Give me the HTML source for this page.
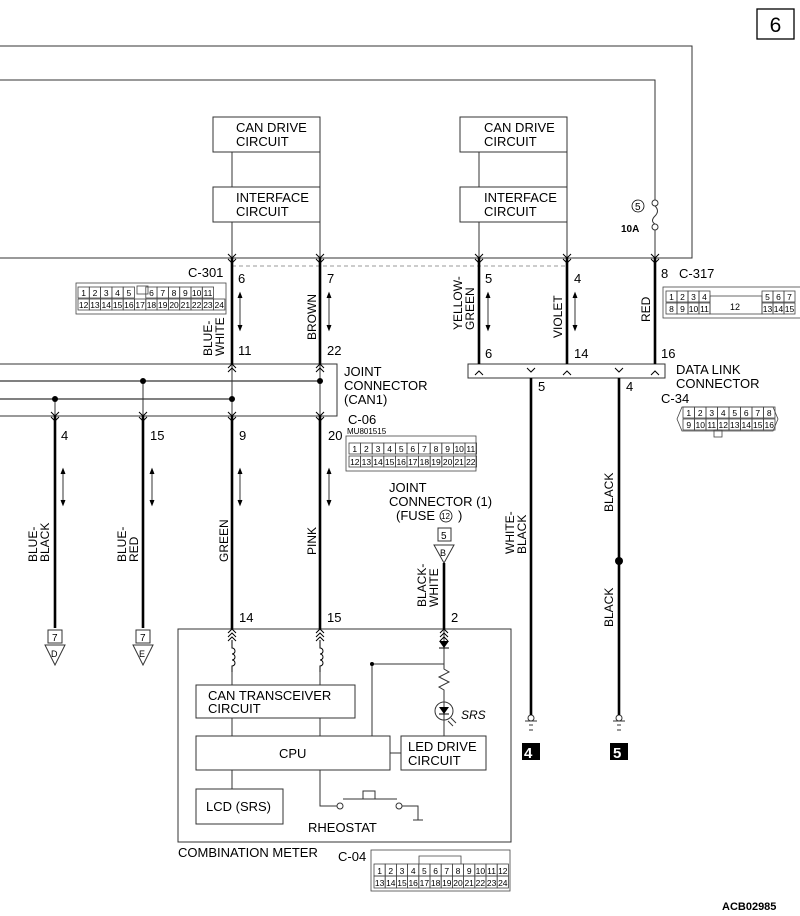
<!DOCTYPE html>
<html><head><meta charset="utf-8"><style>
body{margin:0;background:#fff}
svg{display:block;font-family:"Liberation Sans",Arial,sans-serif}
.t{font-size:13px;fill:#000}
.n{font-size:13px;fill:#000;font-family:"Liberation Sans Narrow","Liberation Sans",sans-serif}
.s{font-size:9px;fill:#000}
</style></head><body>
<svg id="sv" width="800" height="916" viewBox="0 0 800 916" xmlns="http://www.w3.org/2000/svg">
<g fill="none" stroke="#333" stroke-width="1">
<polyline points="0,46 692,46 692,258 0,258"/>
<polyline points="0,80 655,80 655,200"/>
<line x1="655" y1="230" x2="655" y2="258"/>
<circle cx="655" cy="203" r="3"/><circle cx="655" cy="227" r="3"/>
<path d="M655,206 q5,5 0,10 q-5,5 0,8"/>
<rect x="213" y="117" width="107" height="35"/><rect x="213" y="187" width="107" height="35"/>
<rect x="460" y="117" width="107" height="35"/><rect x="460" y="187" width="107" height="35"/>
<line x1="232" y1="152" x2="232" y2="187"/><line x1="320" y1="152" x2="320" y2="187"/>
<line x1="479" y1="152" x2="479" y2="187"/><line x1="567" y1="152" x2="567" y2="187"/>
<line x1="232" y1="222" x2="232" y2="258"/><line x1="320" y1="222" x2="320" y2="258"/>
<line x1="479" y1="222" x2="479" y2="258"/><line x1="567" y1="222" x2="567" y2="258"/>
<line x1="232" y1="266" x2="567" y2="266" stroke-dasharray="4,3" stroke="#999"/>
<polyline points="0,364 337,364 337,416 0,416"/>
<line x1="0" y1="381" x2="320" y2="381" stroke="#000"/>
<line x1="0" y1="399" x2="232" y2="399" stroke="#000"/>
<line x1="143" y1="381" x2="143" y2="416"/><line x1="55" y1="399" x2="55" y2="416"/>
<line x1="232" y1="364" x2="232" y2="416"/><line x1="320" y1="364" x2="320" y2="416"/>
<rect x="468" y="364" width="197" height="14"/>
<rect x="178" y="629" width="333" height="213"/>
<rect x="196" y="685" width="159" height="33"/>
<rect x="196" y="736" width="194" height="34"/>
<rect x="401" y="736" width="85" height="34"/>
<rect x="196" y="789" width="87" height="35"/>
<line x1="232" y1="672" x2="232" y2="685"/><line x1="320" y1="672" x2="320" y2="685"/>
<line x1="232" y1="718" x2="232" y2="736"/><line x1="320" y1="718" x2="320" y2="736"/>
<line x1="232" y1="770" x2="232" y2="789"/>
<polyline points="320,770 320,806 337,806"/>
<polyline points="402,806 418,806 418,820"/>
<line x1="413" y1="820" x2="423" y2="820"/>
<circle cx="340" cy="806" r="3"/><circle cx="399" cy="806" r="3"/>
<line x1="343" y1="799" x2="397" y2="799"/><rect x="363" y="791" width="12" height="8"/>
<line x1="390" y1="753" x2="401" y2="753"/>
<polyline points="372,736 372,664 444,664"/>
<line x1="444" y1="629" x2="444" y2="665"/>
<path d="M444,665 v4 l5,3 -10,5 10,5 -10,5 5,3 v8"/>
<circle cx="444" cy="711" r="9"/>
<line x1="444" y1="698" x2="444" y2="736"/>
<line x1="451" y1="718" x2="456" y2="723"/><line x1="448" y1="721" x2="453" y2="726"/>
<circle cx="531" cy="718" r="3"/><line x1="525" y1="721" x2="537" y2="721"/><line x1="529" y1="725" x2="533" y2="725"/><line x1="529" y1="730" x2="533" y2="730"/>
<circle cx="619" cy="718" r="3"/><line x1="613" y1="721" x2="625" y2="721"/><line x1="617" y1="725" x2="621" y2="725"/><line x1="617" y1="730" x2="621" y2="730"/>
<rect x="48" y="630" width="14" height="13"/><polygon points="45,645 65,645 55,665"/>
<rect x="136" y="630" width="14" height="13"/><polygon points="133,645 153,645 143,665"/>
<rect x="438" y="528" width="13" height="13"/><polygon points="434,545 454,545 444,563"/>
<rect x="757" y="9" width="37" height="30" stroke="#000" stroke-width="1.3"/>
</g>
<polygon points="439,641 449,641 444,648" fill="#000"/><line x1="439" y1="648" x2="449" y2="648" stroke="#000"/>
<polygon points="439,707 449,707 444,714" fill="#000"/><line x1="439" y1="714" x2="449" y2="714" stroke="#000"/>
<g stroke="#000" stroke-width="2.6" fill="none">
<line x1="232" y1="258" x2="232" y2="364"/><line x1="320" y1="258" x2="320" y2="364"/>
<line x1="479" y1="258" x2="479" y2="364"/><line x1="567" y1="258" x2="567" y2="364"/>
<line x1="655" y1="258" x2="655" y2="364"/>
<line x1="55" y1="416" x2="55" y2="628"/><line x1="143" y1="416" x2="143" y2="628"/>
<line x1="232" y1="416" x2="232" y2="629"/><line x1="320" y1="416" x2="320" y2="629"/>
<line x1="444" y1="563" x2="444" y2="629"/>
<line x1="531" y1="378" x2="531" y2="715"/><line x1="619" y1="378" x2="619" y2="715"/>
</g>
<g fill="#000">
<circle cx="143" cy="381" r="3"/><circle cx="320" cy="381" r="3"/><circle cx="55" cy="399" r="3"/><circle cx="232" cy="399" r="3"/>
<circle cx="619" cy="561" r="4"/><circle cx="372" cy="664" r="2"/>
<rect x="522" y="743" width="18" height="17"/><rect x="610" y="743" width="18" height="17"/>
</g>
<g id="arr" fill="none" stroke="#000" stroke-width="1"></g>
<g id="conn" fill="none" stroke="#444" stroke-width="0.8"></g>
<g class="t">
<text x="236" y="132">CAN DRIVE</text><text x="236" y="146">CIRCUIT</text>
<text x="236" y="202">INTERFACE</text><text x="236" y="216">CIRCUIT</text>
<text x="484" y="132">CAN DRIVE</text><text x="484" y="146">CIRCUIT</text>
<text x="484" y="202">INTERFACE</text><text x="484" y="216">CIRCUIT</text>
<text x="344" y="376">JOINT</text><text x="344" y="390">CONNECTOR</text><text x="344" y="404">(CAN1)</text>
<text x="676" y="374">DATA LINK</text><text x="676" y="388">CONNECTOR</text>
<text x="389" y="492">JOINT</text><text x="389" y="506">CONNECTOR (1)</text><text x="396" y="520">(FUSE</text><text x="458" y="520">)</text>
<text x="208" y="700">CAN TRANSCEIVER</text><text x="208" y="713">CIRCUIT</text>
<text x="279" y="758">CPU</text>
<text x="408" y="751">LED DRIVE</text><text x="408" y="765">CIRCUIT</text>
<text x="206" y="811">LCD (SRS)</text>
<text x="308" y="832">RHEOSTAT</text>
<text x="178" y="857">COMBINATION METER</text>
</g>
<circle cx="446" cy="516" r="6" fill="none" stroke="#000" stroke-width="0.8"/>
<text x="441" y="519" style="font-size:8px">12</text>
<circle cx="638" cy="206" r="6" fill="none" stroke="#000" stroke-width="0.8"/>
<text x="635" y="210" style="font-size:10px">5</text>
<text x="621" y="232" style="font-size:10px;font-weight:bold">10A</text>
<text x="461" y="719" style="font-size:12px;font-style:italic">SRS</text>
<text x="775.5" y="32" text-anchor="middle" style="font-size:21px;font-family:'Liberation Sans Narrow','Liberation Sans',sans-serif">6</text>
<g class="n">
<text x="238" y="283">6</text><text x="327" y="283">7</text><text x="485" y="283">5</text><text x="574" y="283">4</text><text x="661" y="278">8</text>
<text x="238" y="355">11</text><text x="327" y="355">22</text><text x="485" y="358">6</text><text x="574" y="358">14</text><text x="661" y="358">16</text>
<text x="538" y="391">5</text><text x="626" y="391">4</text>
<text x="61" y="440">4</text><text x="150" y="440">15</text><text x="239" y="440">9</text><text x="328" y="440">20</text>
<text x="239" y="622">14</text><text x="327" y="622">15</text><text x="451" y="622">2</text>
<text x="188" y="277">C-301</text><text x="679" y="278">C-317</text><text x="348" y="424">C-06</text><text x="661" y="403">C-34</text>
<text x="338" y="861">C-04</text>
<text x="52" y="641" style="font-size:10px">7</text><text x="140" y="641" style="font-size:10px">7</text><text x="441" y="539" style="font-size:10px">5</text>
<text x="51" y="657" style="font-size:9px">D</text><text x="139" y="657" style="font-size:9px">E</text><text x="440" y="556" style="font-size:9px">B</text>
</g>
<text x="347" y="434" style="font-size:8px">MU801515</text>
<text x="524" y="758" style="font-size:15px;font-weight:bold;fill:#fff">4</text>
<text x="613" y="758" style="font-size:15px;font-weight:bold;fill:#fff">5</text>
<text x="722" y="910" style="font-size:11px;font-weight:bold">ACB02985</text>
<g class="n" style="font-size:12px">
<text transform="translate(212,356) rotate(-90)">BLUE-</text><text transform="translate(224,356) rotate(-90)">WHITE</text>
<text transform="translate(316,340) rotate(-90)">BROWN</text>
<text transform="translate(462,330) rotate(-90)">YELLOW-</text><text transform="translate(474,330) rotate(-90)">GREEN</text>
<text transform="translate(562,338) rotate(-90)">VIOLET</text>
<text transform="translate(650,322) rotate(-90)">RED</text>
<text transform="translate(37,562) rotate(-90)">BLUE-</text><text transform="translate(49,562) rotate(-90)">BLACK</text>
<text transform="translate(126,562) rotate(-90)">BLUE-</text><text transform="translate(138,562) rotate(-90)">RED</text>
<text transform="translate(228,562) rotate(-90)">GREEN</text>
<text transform="translate(316,555) rotate(-90)">PINK</text>
<text transform="translate(426,607) rotate(-90)">BLACK-</text><text transform="translate(438,607) rotate(-90)">WHITE</text>
<text transform="translate(514,554) rotate(-90)">WHITE-</text><text transform="translate(526,554) rotate(-90)">BLACK</text>
<text transform="translate(613,512) rotate(-90)">BLACK</text>
<text transform="translate(613,627) rotate(-90)">BLACK</text>
</g>
</svg>
<script>
var NS="http://www.w3.org/2000/svg";
function el(p,n,a,txt){var e=document.createElementNS(NS,n);for(var k in a)e.setAttribute(k,a[k]);if(txt!==undefined)e.textContent=txt;p.appendChild(e);return e;}
var arr=document.getElementById('arr'),conn=document.getElementById('conn'),sv=document.getElementById('sv');
function chev(x,y,dir){var d=dir*4;el(arr,'polyline',{points:(x-4)+','+(y-d)+' '+x+','+y+' '+(x+4)+','+(y-d)});}
[232,320,479,567,655].forEach(function(x){chev(x,258,1);chev(x,263,1);});
[232,320].forEach(function(x){chev(x,364,-1);chev(x,368,-1);});
[55,143,232,320].forEach(function(x){chev(x,416,1);chev(x,421,1);});
[479,567,655].forEach(function(x){chev(x,371,-1);});
[531,619].forEach(function(x){chev(x,372,1);});
[232,320,444].forEach(function(x){chev(x,629,-1);chev(x,633,-1);chev(x,637,-1);});
function bi(x,y1,y2){el(arr,'line',{x1:x,y1:y1,x2:x,y2:y2,'stroke-width':0.8});el(arr,'polyline',{points:(x-2)+','+(y1+5)+' '+x+','+y1+' '+(x+2)+','+(y1+5),fill:'#000'});el(arr,'polyline',{points:(x-2)+','+(y2-5)+' '+x+','+y2+' '+(x+2)+','+(y2-5),fill:'#000'});}
bi(240,293,330);bi(329,293,330);bi(488,293,330);bi(575,293,330);
bi(63,469,505);bi(152,469,505);bi(240,469,505);bi(329,469,505);
[232,320].forEach(function(x){el(arr,'path',{d:'M'+x+',640 v8 a3,3 0 1 1 0,6 a3,3 0 1 1 0,6 a3,3 0 1 1 0,6 v6'});});
function grid(x,y,w,h,rows){if(w)el(conn,'rect',{x:x,y:y,width:w,height:h});rows.forEach(function(r,ri){var cw=r.w,cx=r.x;r.c.forEach(function(c){if(c!==''){el(conn,'rect',{x:cx,y:r.y,width:cw,height:r.h});el(sv,'text',{x:cx+cw/2,y:r.y+r.h-2,'text-anchor':'middle',style:'font-size:'+(r.fs||8.5)+'px;font-family:"Liberation Sans Narrow","Liberation Sans",sans-serif'},c);}cx+=cw;});});}
grid(76,283,150,31,[{x:78,y:287,w:11.3,h:11,c:['1','2','3','4','5','','6','7','8','9','10','11']},{x:78,y:299,w:11.3,h:11,c:['12','13','14','15','16','17','18','19','20','21','22','23','24']}]);
el(conn,'rect',{x:137,y:286,width:11,height:8});
grid(663,287,147,31,[{x:666,y:291,w:11,h:11,c:['1','2','3','4']},{x:666,y:303,w:11,h:11,c:['8','9','10','11']},{x:762,y:291,w:11,h:11,c:['5','6','7']},{x:762,y:303,w:11,h:11,c:['13','14','15']}]);
el(conn,'rect',{x:710,y:296,width:52,height:18});el(sv,'text',{x:730,y:310,style:'font-size:9px'},'12');
grid(346,436,130,35,[{x:349,y:443,w:11.6,h:11,c:['1','2','3','4','5','6','7','8','9','10','11']},{x:349,y:456,w:11.6,h:11,c:['12','13','14','15','16','17','18','19','20','21','22']}]);
el(conn,'path',{d:'M677,419 l5,-12 h91 l5,12 l-5,12 h-91 z'});
grid(683,407,0,0,[{x:683,y:407,w:11.5,h:11,c:['1','2','3','4','5','6','7','8']},{x:683,y:419,w:11.5,h:11,c:['9','10','11','12','13','14','15','16']}]);
el(conn,'rect',{x:714,y:430,width:8,height:7});
grid(371,850,139,41,[{x:374,y:864,w:11.2,h:12,c:['1','2','3','4','5','6','7','8','9','10','11','12']},{x:374,y:876,w:11.2,h:12,c:['13','14','15','16','17','18','19','20','21','22','23','24']}]);
el(conn,'path',{d:'M419,864 v-8 h42 v8'});
</script>
</body></html>
